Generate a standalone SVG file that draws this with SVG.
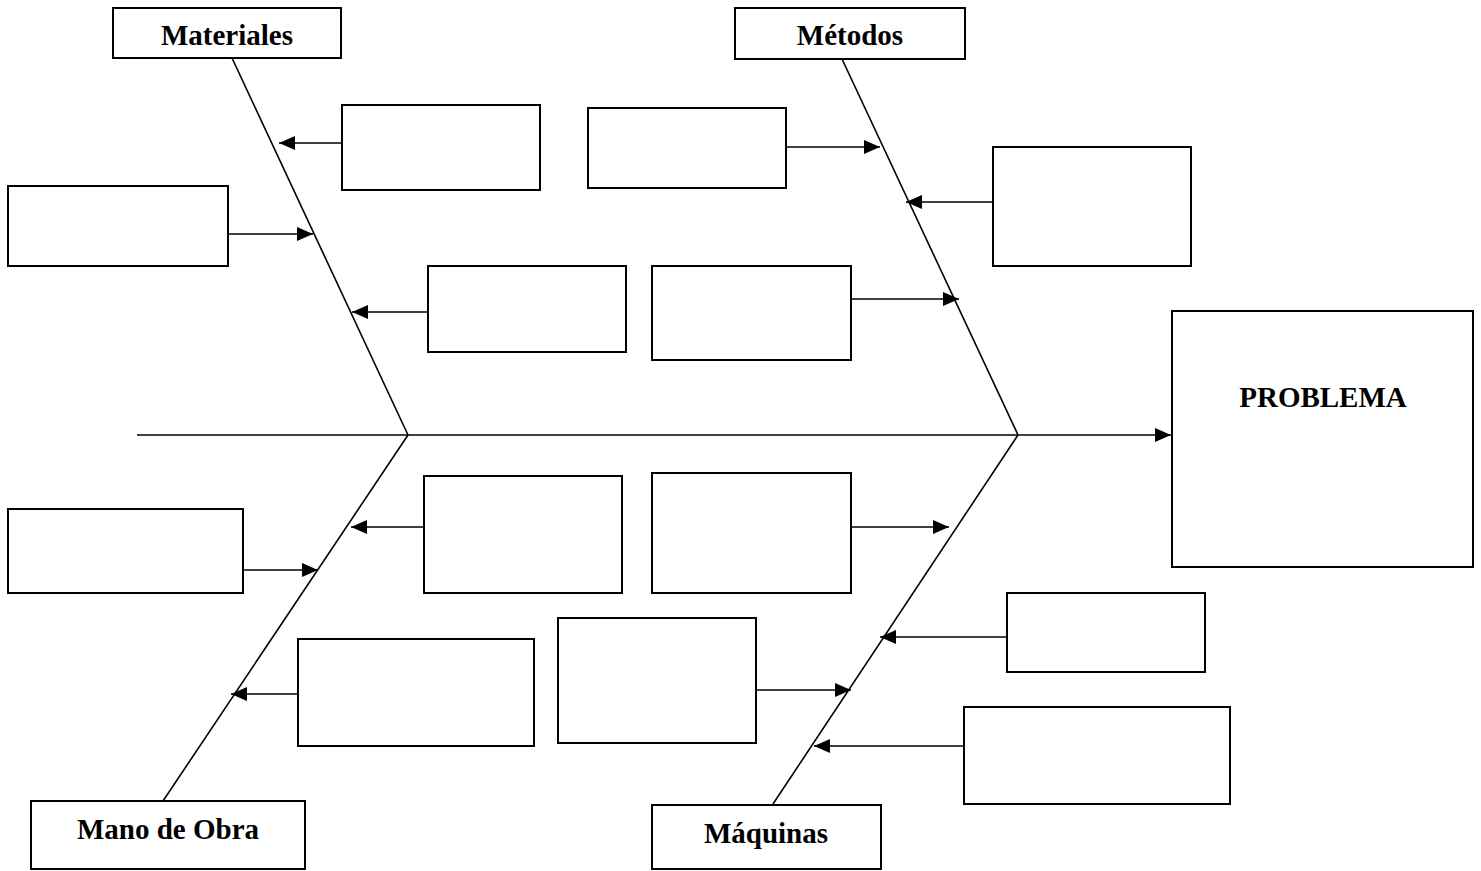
<svg xmlns="http://www.w3.org/2000/svg" width="1481" height="871" viewBox="0 0 1481 871">
  <defs>
    <marker id="arrow" markerWidth="17" markerHeight="15" refX="16" refY="7" orient="auto" markerUnits="userSpaceOnUse">
      <path d="M0,0 L16,7 L0,14 Z" fill="#000"/>
    </marker>
    <style>
      rect { fill: #fff; stroke: #000; stroke-width: 2; }
      .bone { stroke: #000; stroke-width: 1.6; fill: none; }
      .spine { stroke: #000; stroke-width: 1.3; fill: none; }
      .link { stroke: #000; stroke-width: 1.6; fill: none; marker-end: url(#arrow); }
      text { font-family: "Liberation Serif", "Times New Roman", serif; font-weight: bold; font-size: 29px; fill: #000; text-anchor: middle; }
    </style>
  </defs>
  <rect x="0" y="0" width="1481" height="871" style="fill:#fff;stroke:none"/>

  <!-- spine and main bones -->
  <g id="connectors">
    <line class="spine" x1="137" y1="435" x2="1171" y2="435" marker-end="url(#arrow)"/>
    <line class="bone" x1="232" y1="58" x2="408" y2="435"/>
    <line class="bone" x1="842" y1="59" x2="1018" y2="435"/>
    <line class="bone" x1="408" y1="435" x2="163" y2="801"/>
    <line class="bone" x1="1018" y1="435" x2="773" y2="804"/>

    <!-- cause arrows -->
    <line class="link" x1="342" y1="143" x2="279" y2="143"/>
    <line class="link" x1="786" y1="147" x2="880" y2="147"/>
    <line class="link" x1="993" y1="202" x2="906" y2="202"/>
    <line class="link" x1="228" y1="234" x2="313" y2="234"/>
    <line class="link" x1="428" y1="312" x2="352" y2="312"/>
    <line class="link" x1="851" y1="299" x2="959" y2="299"/>
    <line class="link" x1="243" y1="570" x2="318" y2="570"/>
    <line class="link" x1="424" y1="527" x2="351" y2="527"/>
    <line class="link" x1="851" y1="527" x2="949" y2="527"/>
    <line class="link" x1="1007" y1="637" x2="880" y2="637"/>
    <line class="link" x1="298" y1="694" x2="231" y2="694"/>
    <line class="link" x1="756" y1="690" x2="851" y2="690"/>
    <line class="link" x1="964" y1="746" x2="814" y2="746"/>
  </g>

  <!-- category headers -->
  <g id="materiales"><rect x="113" y="8" width="228" height="50"/><text x="227" y="45">Materiales</text></g>
  <g id="metodos"><rect x="735" y="8" width="230" height="51"/><text x="850" y="45">Métodos</text></g>
  <g id="mano-de-obra"><rect x="31" y="801" width="274" height="68"/><text x="168" y="839">Mano de Obra</text></g>
  <g id="maquinas"><rect x="652" y="805" width="229" height="64"/><text x="766" y="843">Máquinas</text></g>

  <!-- effect -->
  <g id="problema"><rect x="1172" y="311" width="301" height="256"/><text x="1323" y="407">PROBLEMA</text></g>

  <!-- empty cause boxes -->
  <g id="cause-1"><rect x="342" y="105" width="198" height="85"/></g>
  <g id="cause-2"><rect x="588" y="108" width="198" height="80"/></g>
  <g id="cause-3"><rect x="993" y="147" width="198" height="119"/></g>
  <g id="cause-4"><rect x="8" y="186" width="220" height="80"/></g>
  <g id="cause-5"><rect x="428" y="266" width="198" height="86"/></g>
  <g id="cause-6"><rect x="652" y="266" width="199" height="94"/></g>
  <g id="cause-7"><rect x="8" y="509" width="235" height="84"/></g>
  <g id="cause-8"><rect x="424" y="476" width="198" height="117"/></g>
  <g id="cause-9"><rect x="652" y="473" width="199" height="120"/></g>
  <g id="cause-10"><rect x="1007" y="593" width="198" height="79"/></g>
  <g id="cause-11"><rect x="298" y="639" width="236" height="107"/></g>
  <g id="cause-12"><rect x="558" y="618" width="198" height="125"/></g>
  <g id="cause-13"><rect x="964" y="707" width="266" height="97"/></g>
</svg>
